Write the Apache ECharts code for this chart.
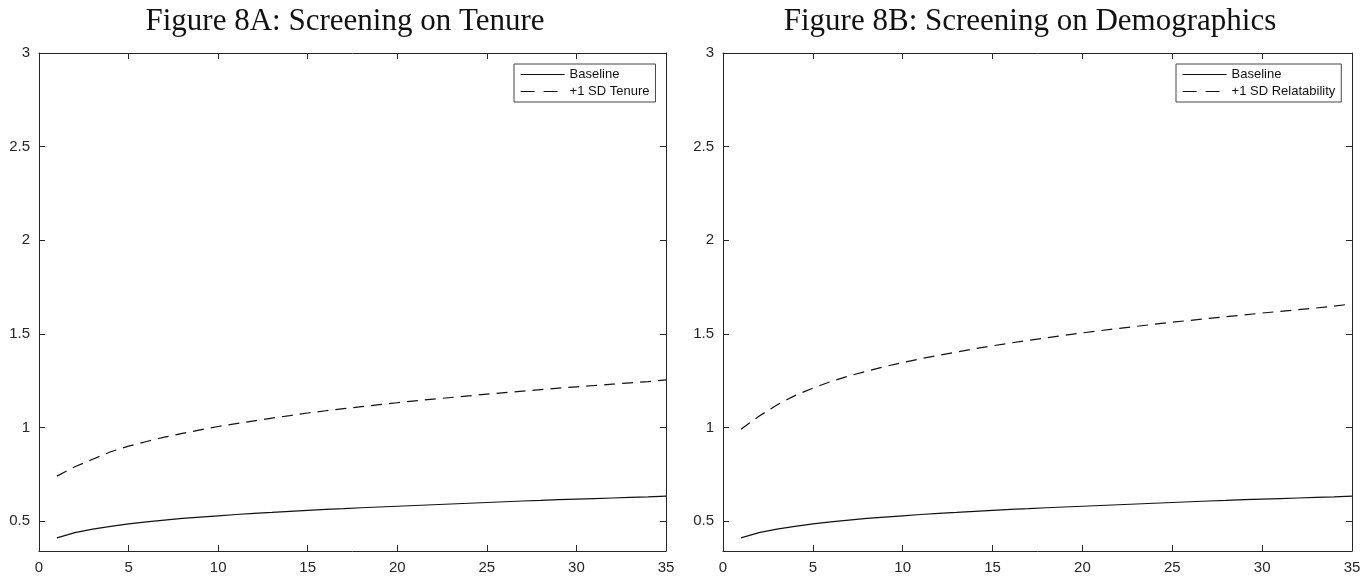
<!DOCTYPE html>
<html>
<head>
<meta charset="utf-8">
<script src="https://cdn.jsdelivr.net/npm/echarts@6/dist/echarts.min.js"></script>
<style>
html,body{margin:0;padding:0;background:#fff;}
#c{width:1370px;height:577px;}
</style>
</head>
<body>
<div id="c"></div>
<script>
const titles = ['Figure 8A: Screening on Tenure', 'Figure 8B: Screening on Demographics'];
const xValues = [1,2,3,4,5,6,7,8,9,10,11,12,13,14,15,16,17,18,19,20,21,22,23,24,25,26,27,28,29,30,31,32,33,34,35];
const baselineA = [0.41,0.438,0.457,0.472,0.485,0.496,0.505,0.514,0.521,0.528,0.535,0.541,0.546,0.552,0.557,0.562,0.566,0.571,0.575,0.579,0.583,0.587,0.591,0.595,0.599,0.603,0.607,0.610,0.614,0.617,0.620,0.623,0.626,0.629,0.633];
const tenureA = [0.74,0.79,0.83,0.87,0.90,0.925,0.948,0.968,0.987,1.005,1.02,1.035,1.05,1.063,1.077,1.089,1.10,1.111,1.122,1.132,1.142,1.151,1.16,1.169,1.178,1.186,1.194,1.202,1.21,1.217,1.224,1.231,1.238,1.245,1.254];
const baselineB = [0.41,0.438,0.457,0.472,0.485,0.496,0.505,0.514,0.521,0.528,0.535,0.541,0.546,0.552,0.557,0.562,0.566,0.571,0.575,0.579,0.583,0.587,0.591,0.595,0.599,0.603,0.607,0.610,0.614,0.617,0.620,0.623,0.626,0.629,0.633];
const relatB = [0.99,1.06,1.12,1.17,1.21,1.245,1.275,1.30,1.325,1.347,1.367,1.385,1.403,1.42,1.436,1.451,1.465,1.479,1.492,1.505,1.517,1.529,1.54,1.551,1.562,1.572,1.582,1.592,1.601,1.611,1.62,1.629,1.638,1.648,1.66];
const legendA = ['Baseline', '+1 SD Tenure'];
const legendB = ['Baseline ', '+1 SD Relatability'];
const yTicks = [0.5,1,1.5,2,2.5,3];
const yMin = 0.34, yMax = 3;

const axisColor = '#262626';
const labelFont = {fontFamily:'Liberation Sans', fontSize:15, color:axisColor};

const grids = [
  {left:39, right:704, top:53, bottom:26},
  {left:723, right:18, top:53, bottom:26}
];

function xAx(gi, pos, labels){
  return {type:'value', gridIndex:gi, position:pos, min:0, max:35, interval:5,
    axisLine:{show:true, onZero:false, lineStyle:{color:axisColor, width:1}},
    axisTick:{show:true, inside:true, length:6, lineStyle:{color:axisColor}},
    axisLabel:{show:labels, margin:9, ...labelFont},
    splitLine:{show:false}};
}
function yAx(gi, pos, labels){
  return {type:'value', gridIndex:gi, position:pos, min:yMin, max:yMax,
    axisLine:{show:true, onZero:false, lineStyle:{color:axisColor, width:1}},
    axisTick:{show:true, inside:true, length:6, customValues:yTicks, lineStyle:{color:axisColor}},
    axisLabel:{show:labels, margin:9, customValues:yTicks, ...labelFont},
    splitLine:{show:false}};
}
function pairs(ys){ return xValues.map((x,i)=>[x, ys[i]]); }
function line(name, ys, idx, dashed){
  return {name, type:'line', xAxisIndex:idx, yAxisIndex:idx, data:pairs(ys),
    symbol:'none', smooth:false, animation:false,
    lineStyle:{color:'#111', width:1.2, type: dashed ? [11,7] : 'solid'},
    itemStyle:{color:'#111'}};
}
function legend(names, left, width){
  return {data:[
      {name:names[0]},
      {name:names[1], lineStyle:{type:[14,9], width:1.2}}
    ],
    orient:'vertical', left:left, top:64, width:width,
    align:'left', itemWidth:44, itemHeight:13, itemGap:4,
    padding:[4,6,4,6], borderColor:'#444', borderWidth:1, backgroundColor:'#fff',
    itemStyle:{opacity:0},
    lineStyle:{width:1.2},
    textStyle:{fontFamily:'Liberation Sans', fontSize:13, color:'#111'}};
}

const chart = echarts.init(document.getElementById('c'), null, {renderer:'canvas'});
chart.setOption({
  animation:false,
  backgroundColor:'#fff',
  title:[
    {text:titles[0], left:340, top:1, textAlign:'center', textStyle:{fontFamily:'Liberation Serif', fontWeight:'normal', fontSize:31, color:'#111'}},
    {text:titles[1], left:1025, top:1, textAlign:'center', textStyle:{fontFamily:'Liberation Serif', fontWeight:'normal', fontSize:31, color:'#111'}}
  ],
  grid: grids,
  xAxis:[xAx(0,'bottom',true), xAx(1,'bottom',true), xAx(0,'top',false), xAx(1,'top',false)],
  yAxis:[yAx(0,'left',true), yAx(1,'left',true), yAx(0,'right',false), yAx(1,'right',false)],
  legend:[legend(legendA, 514, 142), legend(legendB, 1176, 164)],
  series:[
    line(legendA[0], baselineA, 0, false),
    line(legendA[1], tenureA, 0, true),
    line(legendB[0], baselineB, 1, false),
    line(legendB[1], relatB, 1, true)
  ]
});
</script>
</body>
</html>
